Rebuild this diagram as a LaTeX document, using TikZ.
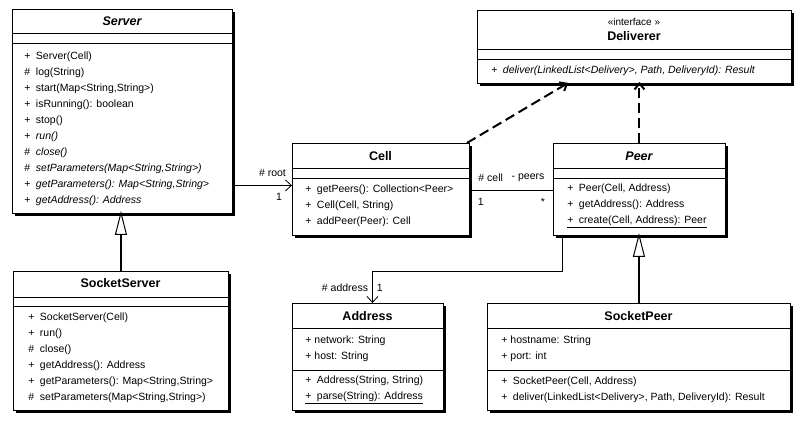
\documentclass[tikz,border=0pt]{standalone}
\usepackage{fontspec}
\setmainfont{Liberation Sans}
\usetikzlibrary{arrows.meta,shadows}
\newcommand{\vis}[1]{\makebox[11.5pt][l]{#1}}

\begin{document}
\begin{tikzpicture}[x=1pt,y=-1pt,line width=0.9pt,
                    umlclass/.style={draw,fill=white,inner sep=0pt,anchor=north west,
                      general shadow={fill=black,shadow xshift=3pt,shadow yshift=-3pt}},
                    title/.style={font=\fontsize{12.5}{15}\selectfont\bfseries},
                    stereo/.style={font=\fontsize{10}{12}\selectfont},
                    members/.style={anchor=west,align=left,inner sep=0pt,
                      font=\fontsize{10.5}{16}\selectfont},
                    lbl/.style={font=\fontsize{10.5}{12}\selectfont,inner sep=1pt},
                    assoc/.style={-{Straight Barb[length=6pt,width=11pt]},line width=0.8pt},
                    realize/.style={-{Straight Barb[length=6pt,width=10pt]},line width=2pt,
                      dash pattern=on 10pt off 5pt,shorten >=-2pt},
                    inherit/.style={-{Triangle[open,length=24pt,width=12pt,line width=1pt]},
                      line width=2pt,shorten >=-3pt}]

  \useasboundingbox (0,0) rectangle (803,424);

  \node[umlclass,minimum width=220pt,minimum height=204pt] (Server) at (12,9) {};
  \node[umlclass,minimum width=177pt,minimum height=92pt]  (Cell) at (292,143) {};
  \node[umlclass,minimum width=172pt,minimum height=92pt]  (Peer) at (553,143) {};
  \node[umlclass,minimum width=314pt,minimum height=73pt]  (Deliverer) at (477,10) {};
  \node[umlclass,minimum width=215pt,minimum height=139pt] (SocketServer) at (13,271) {};
  \node[umlclass,minimum width=151pt,minimum height=107pt] (Address) at (292,303) {};
  \node[umlclass,minimum width=303pt,minimum height=107pt] (SocketPeer) at (487,303) {};

  \draw (Server.west |- 0,33) -- (Server.east |- 0,33)
        (Server.west |- 0,43) -- (Server.east |- 0,43)
        (Cell.west |- 0,168) -- (Cell.east |- 0,168)
        (Cell.west |- 0,178) -- (Cell.east |- 0,178)
        (Peer.west |- 0,168) -- (Peer.east |- 0,168)
        (Peer.west |- 0,178) -- (Peer.east |- 0,178)
        (Deliverer.west |- 0,49) -- (Deliverer.east |- 0,49)
        (Deliverer.west |- 0,59) -- (Deliverer.east |- 0,59)
        (SocketServer.west |- 0,297) -- (SocketServer.east |- 0,297)
        (SocketServer.west |- 0,306) -- (SocketServer.east |- 0,306)
        (Address.west |- 0,328) -- (Address.east |- 0,328)
        (Address.west |- 0,370) -- (Address.east |- 0,370)
        (SocketPeer.west |- 0,328) -- (SocketPeer.east |- 0,328)
        (SocketPeer.west |- 0,370) -- (SocketPeer.east |- 0,370);

  \node[title] at (122,21) {\itshape Server};
  \node[members] at (24,129) {\vis{+}Server(Cell)\\
    \vis{\#}log(String)\\
    \vis{+}start(Map<String,String>)\\
    \vis{+}isRunning(): boolean\\
    \vis{+}stop()\\
    \vis{+}\textit{run()}\\
    \vis{\#}\textit{close()}\\
    \vis{\#}\textit{setParameters(Map<String,String>)}\\
    \vis{+}\textit{getParameters(): Map<String,String>}\\
    \vis{+}\textit{getAddress(): Address}};

  \node[title] at (380.5,156) {Cell};
  \node[members] at (305,206) {\vis{+}getPeers(): Collection<Peer>\\
    \vis{+}Cell(Cell, String)\\
    \vis{+}addPeer(Peer): Cell};

  \node[title] at (639,156) {\itshape Peer};
  \node[members] at (567,206) {\vis{+}Peer(Cell, Address)\\
    \vis{+}getAddress(): Address\\
    \underline{\vis{+}create(Cell, Address): Peer}};

  \node[stereo] at (634,22) {«interface »};
  \node[title] at (634,36) {Deliverer};
  \node[members] at (491,71) {\vis{+}\textit{deliver(LinkedList<Delivery>, Path, DeliveryId): Result}};

  \node[title] at (120.5,283) {SocketServer};
  \node[members] at (28,358) {\vis{+}SocketServer(Cell)\\
    \vis{+}run()\\
    \vis{\#}close()\\
    \vis{+}getAddress(): Address\\
    \vis{+}getParameters(): Map<String,String>\\
    \vis{\#}setParameters(Map<String,String>)};

  \node[title] at (367.5,316) {Address};
  \node[members] at (305,348.5) {+ network: String\\
    + host: String};
  \node[members] at (305,389.5) {\vis{+}Address(String, String)\\
    \underline{\vis{+}parse(String): Address}};

  \node[title] at (638.5,316) {SocketPeer};
  \node[members] at (501,348.5) {+ hostname: String\\
    + port: int};
  \node[members] at (501,389.5) {\vis{+}SocketPeer(Cell, Address)\\
    \vis{+}deliver(LinkedList<Delivery>, Path, DeliveryId): Result};

  \path ([yshift=4pt]Cell.west -| Server.east) edge[assoc]
          node[lbl,above=7pt,pos=0.67] {\# root}
          node[lbl,below=6pt,pos=0.78] {1} ([yshift=4pt]Cell.west)
        ([yshift=-1pt]Cell.east) edge[line width=0.8pt]
          node[lbl,above=7pt,pos=0.25] {\# cell}
          node[lbl,above=7pt,pos=0.7] {- peers}
          node[lbl,below=6pt,pos=0.13] {1}
          node[lbl,below=6pt,pos=0.88] {*} ([yshift=-1pt]Peer.west)
        ([xshift=-3pt]Cell.north east) edge[realize] ([xshift=-68pt]Deliverer.south)
        (Peer.north) edge[realize] (Peer.north |- Deliverer.south)
        (SocketServer.north) edge[inherit] (SocketServer.north |- Server.south)
        (SocketPeer.north) edge[inherit] (SocketPeer.north |- Peer.south);

  \draw[assoc] ([xshift=-77pt]Peer.south) -- ++(0,35) -|
          node[lbl,left=3pt,pos=0.77] {\# address}
          node[lbl,right=3pt,pos=0.77] {1} ([xshift=4.5pt]Address.north);
\end{tikzpicture}
\end{document}
